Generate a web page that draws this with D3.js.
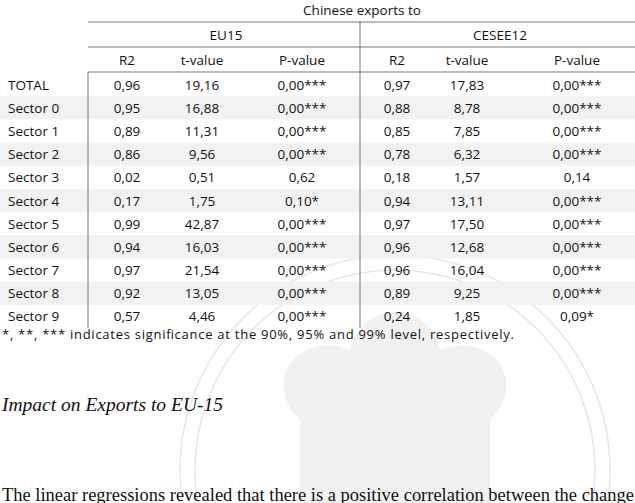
<!DOCTYPE html><html><head><meta charset="utf-8">
<script src="https://cdn.jsdelivr.net/npm/d3@7"></script>
<style>body{margin:0;background:#fff}</style></head><body>
<script>
const rowLabels=["TOTAL","Sector 0","Sector 1","Sector 2","Sector 3","Sector 4","Sector 5","Sector 6","Sector 7","Sector 8","Sector 9"];
const groups=["EU15","CESEE12"];
const colHeads=["R2","t-value","P-value","R2","t-value","P-value"];
const euR2=["0,96","0,95","0,89","0,86","0,02","0,17","0,99","0,94","0,97","0,92","0,57"];
const euT=["19,16","16,88","11,31","9,56","0,51","1,75","42,87","16,03","21,54","13,05","4,46"];
const euP=["0,00***","0,00***","0,00***","0,00***","0,62","0,10*","0,00***","0,00***","0,00***","0,00***","0,00***"];
const ceR2=["0,97","0,88","0,85","0,78","0,18","0,94","0,97","0,96","0,96","0,89","0,24"];
const ceT=["17,83","8,78","7,85","6,32","1,57","13,11","17,50","12,68","16,04","9,25","1,85"];
const ceP=["0,00***","0,00***","0,00***","0,00***","0,14","0,00***","0,00***","0,00***","0,00***","0,00***","0,09*"];
const cols=[euR2,euT,euP,ceR2,ceT,ceP];

const W=635,H=503;
const svg=d3.select("body").append("svg").attr("width",W).attr("height",H);
const font="'Open Sans', Lato, sans-serif";
const y=d3.scaleBand().domain(rowLabels).range([73,328]);
const xc=d3.scaleOrdinal().domain(d3.range(6)).range([127,202,302,397,467,577]);
const xg=d3.scaleOrdinal().domain(groups).range([226,500]);
const wm=svg.append("g").attr("fill","none").attr("stroke","#e6e6e6").attr("stroke-width",1.5);
wm.append("circle").attr("cx",395).attr("cy",470).attr("r",215);
wm.append("circle").attr("cx",395).attr("cy",470).attr("r",200);
svg.append("path").attr("d","M300,420 C260,380 300,330 350,350 C360,300 430,300 440,350 C490,330 530,380 490,420 L490,520 L300,520Z").attr("fill","#f1f1f1");
svg.selectAll("rect.s").data(rowLabels.filter((d,i)=>i%2==1)).join("rect")
 .attr("x",0).attr("width",W).attr("y",d=>y(d)).attr("height",y.bandwidth()).attr("fill","#f2f2f2");
const ln=(x1,y1,x2,y2)=>svg.append("line").attr("x1",x1).attr("y1",y1).attr("x2",x2).attr("y2",y2).attr("stroke","#555").attr("stroke-width",0.8);
ln(88,22,W,22);ln(88,47,W,47);ln(88,72,W,72);
ln(88,72,88,328);ln(360,22,360,328);
const t=(x,yy,s,anc,sz)=>svg.append("text").attr("x",x).attr("y",yy).attr("text-anchor",anc||"middle").attr("font-family",font).attr("font-size",sz||13.5).attr("fill","#111").text(s);
t(362,15,"Chinese exports to");
groups.forEach(g=>t(xg(g),40,g));
colHeads.forEach((h,i)=>t(xc(i),65,h));
rowLabels.forEach((r,ri)=>{
  const yy=y(r)+y.bandwidth()/2+5;
  t(8,yy,r,"start");
  cols.forEach((c,ci)=>t(xc(ci),yy,c[ri]));
});
t(2,339,"*, **, *** indicates significance at the 90%, 95% and 99% level, respectively.","start",13).attr("textLength",512);
svg.append("text").attr("x",2).attr("y",411).attr("font-family","'Liberation Serif', serif").attr("font-style","italic").attr("font-size",19.5).attr("fill","#111").text("Impact on Exports to EU-15");
svg.append("text").attr("x",2).attr("y",501).attr("font-family","'Liberation Serif', serif").attr("font-size",18).attr("fill","#111").attr("textLength",632).attr("lengthAdjust","spacingAndGlyphs").text("The linear regressions revealed that there is a positive correlation between the change");
</script></body></html>
